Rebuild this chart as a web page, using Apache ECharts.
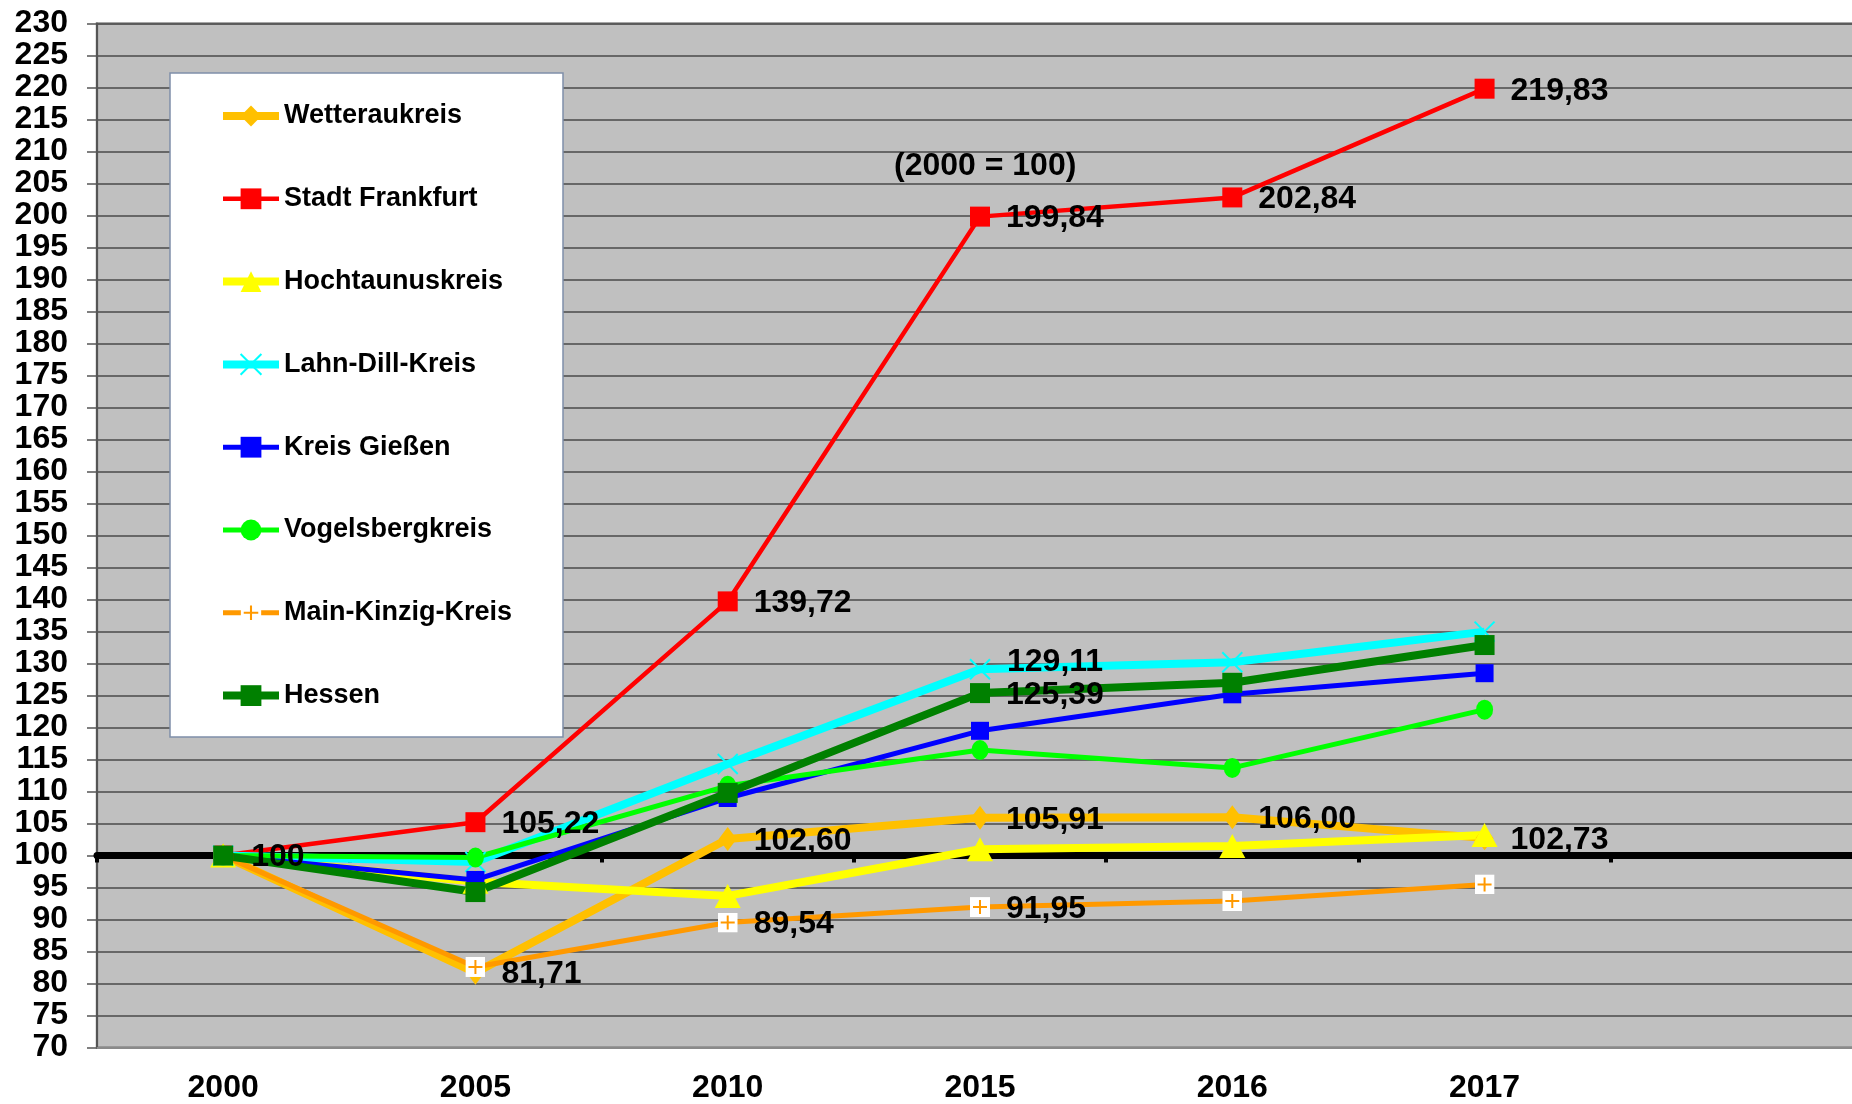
<!DOCTYPE html>
<html>
<head>
<meta charset="utf-8">
<script src="https://cdn.jsdelivr.net/npm/echarts@6/dist/echarts.min.js"></script>
<style>
html,body{margin:0;padding:0;background:#fff;}
#chart{width:1852px;height:1104px;}
</style>
</head>
<body>
<div id="chart"></div>
<script>
// ---- data ----
const years = ['2000', '2005', '2010', '2015', '2016', '2017', ''];
const yTicksMin = 70, yTicksMax = 230, yTickStep = 5;
const noteText = '(2000 = 100)';

const wetterau   = [100, 81.71, 102.60, 105.91, 106.00, 102.73];
const frankfurt  = [100, 105.22, 139.72, 199.84, 202.84, 219.83];
const hochtaunus = [100, 95.9, 93.7, 101.0, 101.5, 103.2];
const lahnDill   = [100, 99.0, 114.3, 129.11, 130.2, 135.0];
const giessen    = [100, 96.2, 109.0, 119.5, 125.2, 128.5];
const vogelsberg = [100, 99.7, 110.9, 116.5, 113.7, 122.8];
const mainKinzig = [100, 82.6, 89.54, 91.95, 92.9, 95.5];
const hessen     = [100, 94.3, 109.8, 125.39, 127.0, 132.9];

const wetterauLabels   = [0, 1, 2, 3, 4, 5];
const frankfurtLabels  = [1, 2, 3, 4, 5];
const lahnDillLabels   = [3];
const mainKinzigLabels = [2, 3];
const hessenLabels     = [3];

// ---- styling ----
const FONT = '"Liberation Sans", Arial, sans-serif';
const plotLeft = 97, plotTop = 23.6, plotRight = -11, plotH = 1024;

const plusSvg = "<svg xmlns='http://www.w3.org/2000/svg' width='20' height='20'><rect width='20' height='20' fill='white'/><path d='M10 3V17M3 10H17' stroke='#FF9900' stroke-width='2'/></svg>";
const plusSymbol = 'image://data:image/svg+xml;charset=utf-8,' + encodeURIComponent(plusSvg);

function fmt(p) {
  return p.value === 100 ? '100' : p.value.toFixed(2).replace('.', ',');
}
function build(values, labelIdx, extra) {
  return values.map((v, i) => {
    const item = { value: v };
    if (labelIdx && labelIdx.indexOf(i) >= 0) {
      item.label = { show: true };
      if (extra && extra[i]) Object.assign(item.label, extra[i]);
    }
    return item;
  });
}
function mk(name, values, labelIdx, color, width, symbol, size, dist, extra, more) {
  return Object.assign({
    name: name,
    type: 'line',
    data: build(values, labelIdx, extra),
    symbol: symbol,
    symbolSize: size,
    showAllSymbol: true,
    lineStyle: { color: color, width: width },
    itemStyle: { color: color },
    label: {
      show: false, position: 'right', distance: dist, formatter: fmt, offset: [0, 2],
      fontFamily: FONT, fontWeight: 'bold', fontSize: 32, color: '#000'
    },
    emphasis: { disabled: true },
    z: 3
  }, more || {});
}

const series = [
  mk('Wetteraukreis', wetterau, wetterauLabels, '#FFC000', 8, 'diamond', [18, 24], 17, {0: {distance: 19}}),
  mk('Stadt Frankfurt', frankfurt, frankfurtLabels, '#FF0000', 4.5, 'rect', 20, 16),
  mk('Hochtaunuskreis', hochtaunus, null, '#FFFF00', 8, 'triangle', [26, 24], 14),
  mk('Lahn-Dill-Kreis', lahnDill, lahnDillLabels, '#00FFFF', 8, 'path://M0,0L20,20M20,0L0,20', 20, 16,
     {3: {offset: [0, -7]}}, { itemStyle: { color: '#00FFFF', borderColor: '#00FFFF', borderWidth: 2 } }),
  mk('Kreis Gießen', giessen, null, '#0000FF', 5, 'rect', 18, 16),
  mk('Vogelsbergkreis', vogelsberg, null, '#00FF00', 5, 'circle', [17, 20], 16),
  mk('Main-Kinzig-Kreis', mainKinzig, mainKinzigLabels, '#FF9900', 5, plusSymbol, 20, 16),
  mk('Hessen', hessen, hessenLabels, '#008000', 8, 'rect', 20, 16)
];

const chart = echarts.init(document.getElementById('chart'), null, { renderer: 'canvas' });
chart.setOption({
  animation: false,
  backgroundColor: '#ffffff',
  title: {
    text: noteText, left: 894, top: 150, padding: 0,
    textStyle: { fontFamily: FONT, fontWeight: 'bold', fontSize: 32, color: '#000' }
  },
  grid: [
    { left: plotLeft, top: plotTop, right: plotRight, height: plotH, outerBoundsMode: 'none', containLabel: false,
      show: true, backgroundColor: '#C0C0C0', borderColor: '#8a8a8a', borderWidth: 2.5 },
    { left: plotLeft, top: plotTop, right: plotRight, height: plotH * (230 - 100) / 160, outerBoundsMode: 'none', containLabel: false }
  ],
  graphic: [
    { type: 'rect', z: 3, shape: { x: 170, y: 73, width: 393, height: 664 },
      style: { fill: '#ffffff', stroke: '#7F8FA9', lineWidth: 1.5 } }
  ],
  legend: {
    orient: 'vertical', left: 219, top: 102.5, padding: 0,
    itemWidth: 56, itemHeight: 26, itemGap: 55.8, z: 5,
    selectedMode: false,
    textStyle: { fontFamily: FONT, fontWeight: 'bold', fontSize: 27, color: '#000' },
    data: series.map(s => ({ name: s.name, lineStyle: { width: s.lineStyle.width } }))
  },
  xAxis: [
    { type: 'category', gridIndex: 0, data: years, boundaryGap: true,
      axisLine: { show: true, lineStyle: { color: '#8a8a8a', width: 2 } },
      axisTick: { show: false },
      axisLabel: { fontFamily: FONT, fontWeight: 'bold', fontSize: 32, color: '#000', margin: 25, interval: 0 },
      splitLine: { show: false } },
    { type: 'category', gridIndex: 1, data: years, boundaryGap: true, z: 1,
      axisLine: { show: true, lineStyle: { color: '#000', width: 7 } },
      axisTick: { show: true, interval: 0, length: 7, inside: false, lineStyle: { color: '#000', width: 4 } },
      axisLabel: { show: false },
      splitLine: { show: false } }
  ],
  yAxis: [
    { type: 'value', gridIndex: 0, min: yTicksMin, max: yTicksMax, interval: yTickStep,
      axisLine: { show: true, lineStyle: { color: '#555', width: 2 } },
      axisTick: { show: true, length: 10, lineStyle: { color: '#555', width: 1.5 } },
      axisLabel: { fontFamily: FONT, fontWeight: 'bold', fontSize: 32, color: '#000', margin: 29 },
      splitLine: { show: true, lineStyle: { color: '#4a4a4a', width: 1.5 } } },
    { type: 'value', gridIndex: 1, min: 100, max: 230, show: false,
      splitLine: { show: false } }
  ],
  series: series
});
</script>
</body>
</html>
